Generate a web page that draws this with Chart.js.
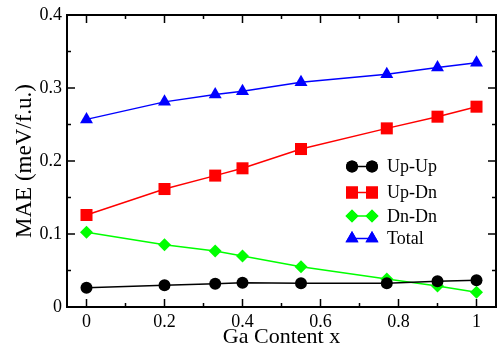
<!DOCTYPE html>
<html><head><meta charset="utf-8">
<script src="https://cdn.jsdelivr.net/npm/chart.js@4/dist/chart.umd.min.js"></script>
<style>html,body{margin:0;padding:0;background:#fff}#wrap{width:497px;height:350px}</style>
</head><body><div id="wrap"><canvas id="c" width="497" height="350"></canvas></div>
<script>
const gaContent = [0, 0.2, 0.33, 0.4, 0.55, 0.77, 0.9, 1.0];
const upUp  = [0.0264, 0.0297, 0.0319, 0.0333, 0.0325, 0.0325, 0.0352, 0.0366];
const upDn  = [0.126, 0.1616, 0.180, 0.190, 0.2164, 0.2447, 0.2607, 0.2744];
const dnDn  = [0.1023, 0.0853, 0.0767, 0.0699, 0.0552, 0.0384, 0.0288, 0.0201];
const total = [0.257, 0.281, 0.291, 0.2955, 0.3078, 0.319, 0.328, 0.3347];
const seriesNames = ['Up-Up', 'Up-Dn', 'Dn-Dn', 'Total'];
const xTicks = [0, 0.2, 0.4, 0.6, 0.8, 1];
const xMinorTicks = [0.1, 0.3, 0.5, 0.7, 0.9];
const yTicks = [0, 0.1, 0.2, 0.3, 0.4];
const yMinorTicks = [0.05, 0.15, 0.25, 0.35];

const FONT = "'Liberation Serif', 'DejaVu Serif', serif";
const pts = arr => gaContent.map((x, i) => ({x, y: arr[i]}));
const mk = (label, data, color, style, r) => ({
  label, data: pts(data), borderColor: color, backgroundColor: color,
  pointStyle: style, pointRadius: r, pointHoverRadius: r, borderWidth: 1.5,
  pointBorderWidth: 0, tension: 0, fill: false
});

const frame = {
  id: 'frame',
  afterDraw(chart) {
    const {ctx, chartArea: a, scales: {x, y}} = chart;
    ctx.save();
    ctx.strokeStyle = '#000';
    ctx.lineWidth = 2;
    ctx.strokeRect(a.left, a.top, a.right - a.left, a.bottom - a.top);
    ctx.lineWidth = 1.5;
    ctx.beginPath();
    const tx = (v, len) => { const p = x.getPixelForValue(v);
      ctx.moveTo(p, a.bottom); ctx.lineTo(p, a.bottom - len);
      ctx.moveTo(p, a.top); ctx.lineTo(p, a.top + len); };
    const ty = (v, len) => { const p = y.getPixelForValue(v);
      ctx.moveTo(a.left, p); ctx.lineTo(a.left + len, p);
      ctx.moveTo(a.right, p); ctx.lineTo(a.right - len, p); };
    xTicks.forEach(v => tx(v, 8)); xMinorTicks.forEach(v => tx(v, 4));
    yTicks.forEach(v => ty(v, 8)); yMinorTicks.forEach(v => ty(v, 4));
    ctx.stroke();
    // legend
    const lx1 = 352, lx2 = 372, tx0 = 387;
    const rows = [166.5, 192.5, 216, 238.5];
    ctx.font = "18px " + FONT;
    ctx.textBaseline = 'middle';
    ctx.textAlign = 'left';
    chart.data.datasets.forEach((ds, i) => {
      const yy = rows[i];
      ctx.strokeStyle = ds.borderColor; ctx.fillStyle = ds.backgroundColor;
      ctx.lineWidth = 1.5;
      ctx.beginPath(); ctx.moveTo(lx1, yy); ctx.lineTo(lx2, yy); ctx.stroke();
      [lx1, lx2].forEach(px => {
        Chart.helpers.drawPoint(ctx, {pointStyle: ds.pointStyle, radius: ds.pointRadius, rotation: 0, borderWidth: 0}, px, yy);
        ctx.fill();
      });
      ctx.fillStyle = '#000';
      ctx.fillText(seriesNames[i], tx0, yy + 1);
    });
    ctx.restore();
  }
};

new Chart(document.getElementById('c'), {
  type: 'line',
  data: { datasets: [
    mk(seriesNames[0], upUp, '#000000', 'circle', 6),
    mk(seriesNames[1], upDn, '#ff0000', 'rect', 8.5),
    mk(seriesNames[2], dnDn, '#00ff00', 'rectRot', 6.5),
    mk(seriesNames[3], total, '#0000ff', 'triangle', 7.5)
  ]},
  options: {
    responsive: false, animation: false,
    layout: { autoPadding: false, padding: {top: 15, right: 1, left: 0, bottom: 0} },
    plugins: { legend: {display: false}, tooltip: {enabled: false} },
    scales: {
      x: {
        type: 'linear', min: -0.05, max: 1.05,
        afterBuildTicks: s => { s.ticks = xTicks.map(v => ({value: v})); },
        afterFit: s => { s.height = 43; s.paddingLeft = 0; s.paddingRight = 0; },
        grid: { display: false, drawTicks: false },
        border: { display: false },
        ticks: { color: '#000', font: {family: FONT, size: 18}, padding: 4,
          callback: v => String(v), maxRotation: 0 },
        title: { display: true, text: 'Ga Content x', color: '#000',
          font: {family: FONT, size: 22}, padding: {top: 0, bottom: 0} }
      },
      y: {
        min: 0, max: 0.4,
        afterBuildTicks: s => { s.ticks = yTicks.map(v => ({value: v})); },
        afterFit: s => { s.width = 67; s.paddingTop = 0; s.paddingBottom = 0; },
        grid: { display: false, drawTicks: false },
        border: { display: false },
        ticks: { color: '#000', font: {family: FONT, size: 18}, padding: 5,
          callback: v => String(v) },
        title: { display: true, text: 'MAE (meV/f.u.)', color: '#000',
          font: {family: FONT, size: 23}, padding: {top: 11, bottom: 0} }
      }
    }
  },
  plugins: [frame]
});
</script></body></html>
